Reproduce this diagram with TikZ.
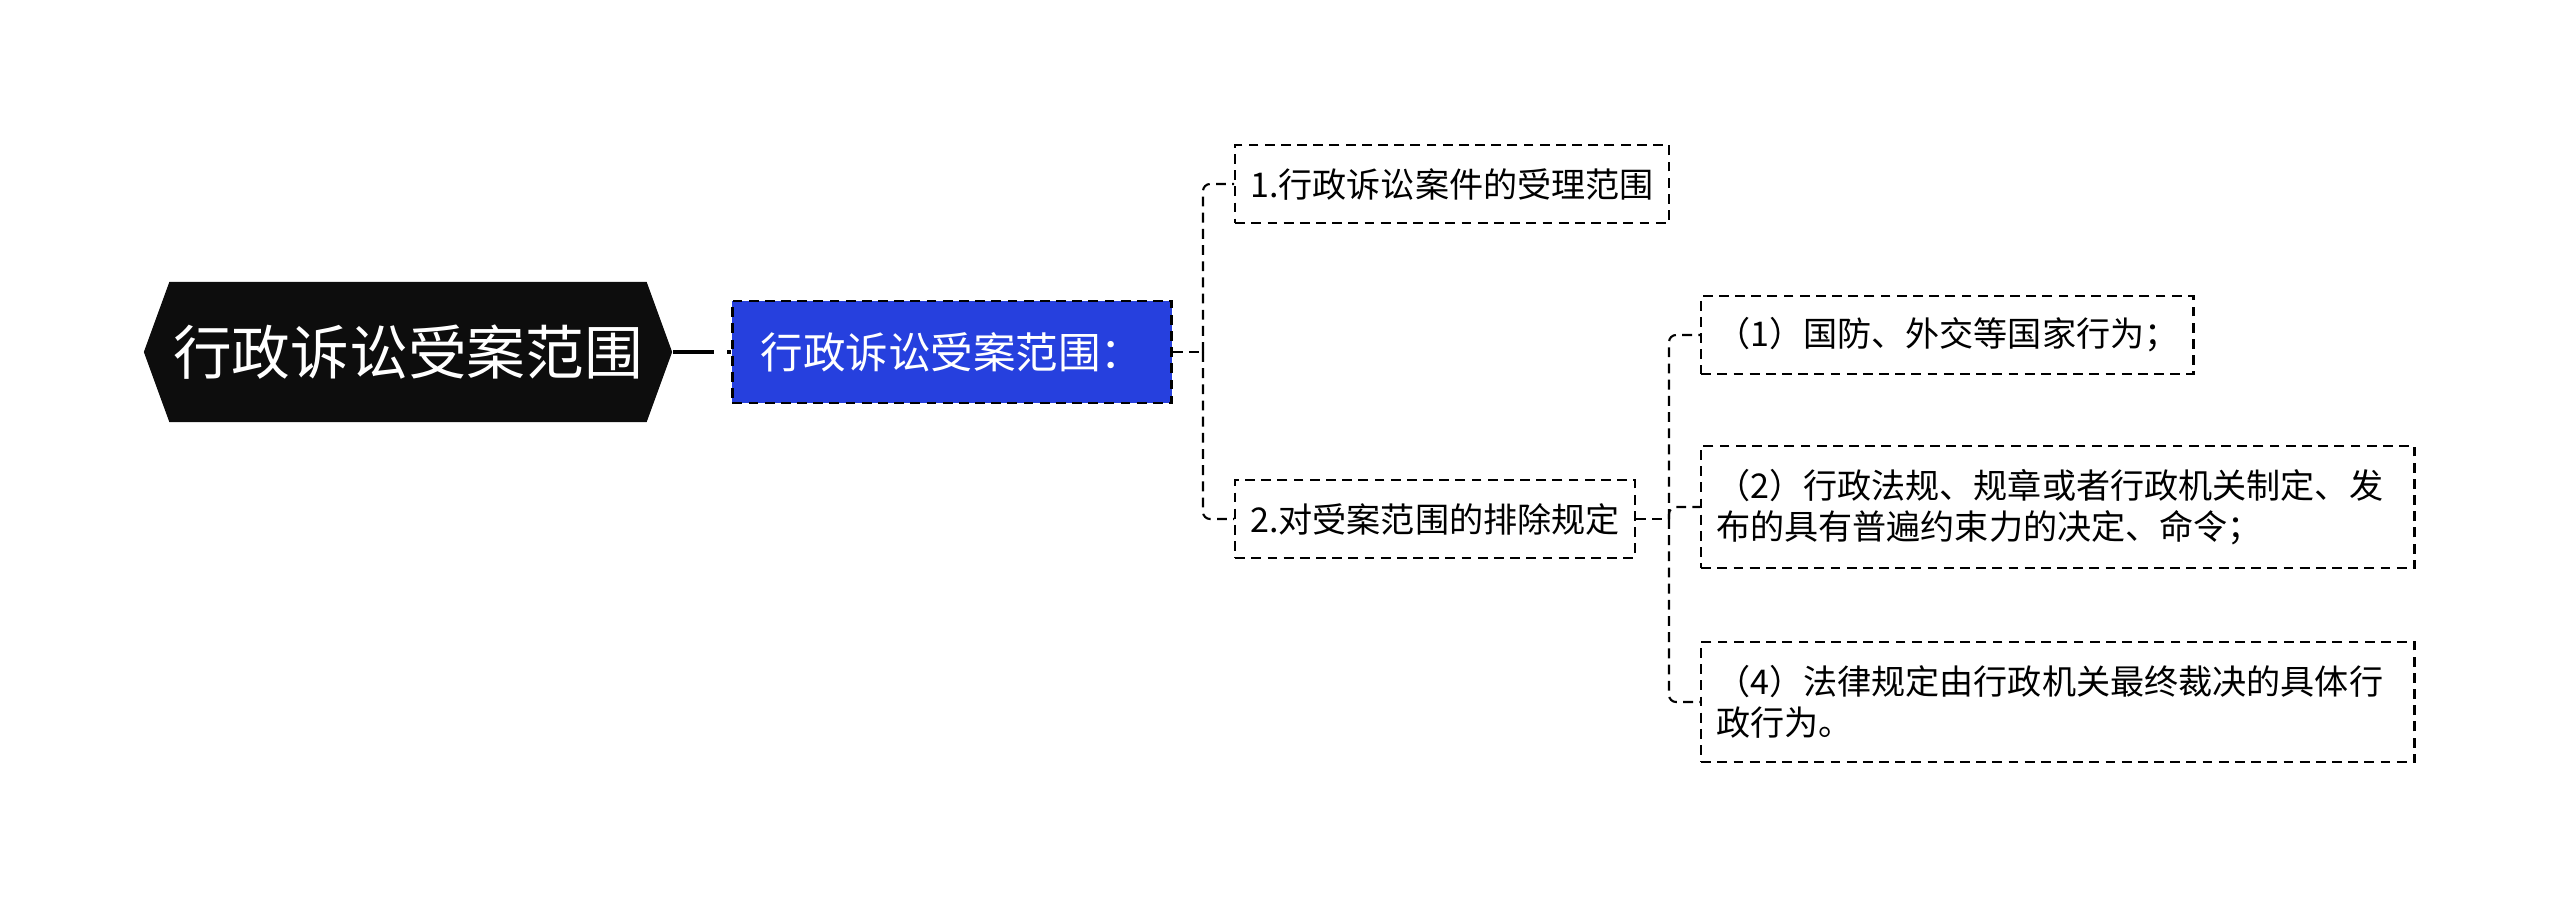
\documentclass[tikz,border=0pt]{standalone}
\usepackage{fontspec}
\setmainfont{Noto Sans CJK SC}
\usetikzlibrary{shapes.symbols}

\definecolor{subblue}{RGB}{38,64,222}

\tikzset{
  rootnode/.style={signal, signal to=west and east, signal pointer angle=140,
    fill=black!95, text=white, minimum width=5.28cm, minimum height=1.4cm,
    inner sep=0pt, font=\fontsize{16.7}{20}\selectfont},
  subnode/.style={draw, dash pattern=on 2.8pt off 1.8pt, line width=0.65pt,
    fill=subblue, text=white, minimum width=4.39cm, minimum height=1.02cm,
    inner sep=0pt, font=\fontsize{12.1}{14}\selectfont},
  leaf/.style={draw, dash pattern=on 2.8pt off 1.8pt, line width=0.65pt,
    anchor=west, minimum height=0.78cm, inner xsep=0.15cm, inner ysep=0pt,
    font=\fontsize{9.7}{11.8}\selectfont},
  link/.style={line width=0.6pt, dash pattern=on 2.8pt off 1.8pt,
    rounded corners=2pt}
}

\begin{document}
\begin{tikzpicture}[x=0.01cm,y=-0.01cm]
   \useasboundingbox (0,0) rectangle (2560,909);

   %% Knoten
   \node[rootnode] (root) at (408,352) {行政诉讼受案范围};
   \node[subnode] (sub) at (952,352) {行政诉讼受案范围：};

   \node[leaf] (range) at (1234,184) {1.行政诉讼案件的受理范围};
   \node[leaf] (excl) at (1234,519) {2.对受案范围的排除规定};

   \node[leaf] (exA) at (1700,335) {（1）国防、外交等国家行为；};
   \node[leaf, minimum height=1.22cm, text width=6.83cm, align=left] (exB) at (1700,507)
     {（2）行政法规、规章或者行政机关制定、发\\布的具有普遍约束力的决定、命令；};
   \node[leaf, minimum height=1.2cm, text width=6.83cm, align=left] (exD) at (1700,702)
     {（4）法律规定由行政机关最终裁决的具体行\\政行为。};

   %% Verbindungen
   \coordinate (j1) at (1203,352);
   \coordinate (j2) at (1669,519);

   \draw[line width=1.1pt, dash pattern=on 11.7pt off 3.7pt on 3pt off 3pt]
     (root.east) -- (sub.west);

   \draw[link] (sub.east) -- (j1);
   \draw[link] (j1) |- (range.west);
   \draw[link] (j1) |- (excl.west);

   \draw[link] (excl.east) -- (j2);
   \draw[link] (j2) |- (exA.west);
   \draw[link] (j2) |- (exB.west);
   \draw[link] (j2) |- (exD.west);
\end{tikzpicture}
\end{document}
